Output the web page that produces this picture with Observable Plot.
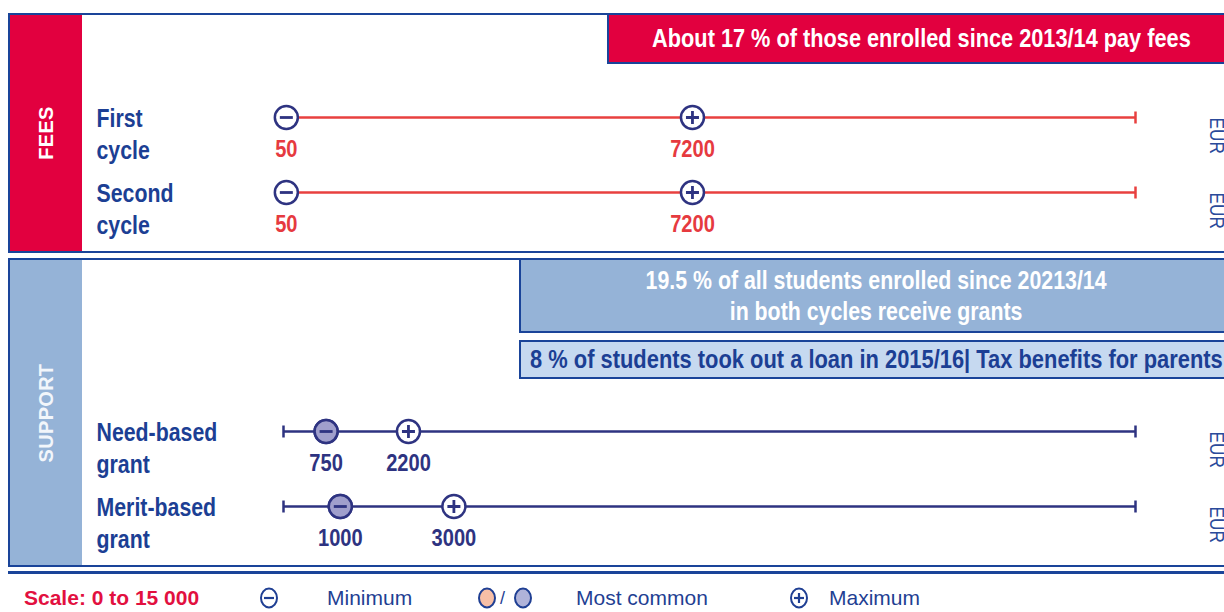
<!DOCTYPE html>
<html><head><meta charset="utf-8">
<script src="https://cdn.jsdelivr.net/npm/d3@7"></script>
<script src="https://cdn.jsdelivr.net/npm/@observablehq/plot@0.6"></script>
<style>
body{margin:0;background:#fff;}
#root{position:relative;width:1224px;height:612px;overflow:hidden;font-family:"Liberation Sans",Arial,sans-serif;}
.abs{position:absolute;box-sizing:border-box;}
.panel{left:8px;width:1240px;border:2px solid #1a4499;}
.side{left:10px;width:72px;}
.sidetxt{position:absolute;left:50%;top:50%;transform:translate(-50%,-50%) rotate(-90deg);font-weight:bold;font-size:20px;color:#fff;white-space:nowrap;letter-spacing:0.3px;}
.narrow{font-weight:bold;white-space:nowrap;}
.narrow span{display:inline-block;transform:scaleX(0.82);}
.leg{position:absolute;top:598px;transform:translateY(-50%);font-size:21px;color:#1f3f93;white-space:nowrap;}
svg.plot{position:absolute;left:0;}
</style></head>
<body><div id="root">
  <div class="abs panel" style="top:13px;height:240px;"></div>
  <div class="abs side" style="top:15px;height:236px;background:#e2003f;"><div class="sidetxt">FEES</div></div>
  <div class="abs" style="left:607px;top:15px;width:640px;height:49px;background:#e2003f;border-left:2px solid #1a4499;border-bottom:2px solid #1a4499;"></div>
  <div class="abs narrow" style="left:521px;top:15px;width:800px;height:47px;line-height:47px;text-align:center;color:#fff;font-size:26.5px;"><span id="b1" style="transform-origin:center"></span></div>

  <div class="abs panel" style="top:258px;height:309px;"></div>
  <div class="abs side" style="top:260px;height:305px;background:#95b3d7;"><div class="sidetxt" style="color:#f2f6fb;">SUPPORT</div></div>
  <div class="abs" style="left:519px;top:260px;width:720px;height:73px;background:#95b3d7;border-left:2px solid #1a4499;border-bottom:2px solid #1a4499;"></div>
  <div class="abs narrow" style="left:476px;top:262px;width:800px;height:69px;text-align:center;color:#fff;font-size:26px;line-height:31px;padding-top:3px;"><span id="b2" style="transform-origin:center"></span></div>
  <div class="abs" style="left:519px;top:340px;width:720px;height:39px;background:#c6d9f0;border:2px solid #1a4499;"></div>
  <div class="abs narrow" style="left:530px;top:340px;height:39px;line-height:39px;color:#1c3f94;font-size:26.7px;"><span id="b3" style="transform-origin:left center"></span></div>

  <div class="abs" style="left:8px;top:571px;width:1240px;height:3px;background:#1a4499;"></div>
  <div id="legend"></div>
</div>
<script>
// ---- data ----
const scaleDomain = [0, 15000];
const feeRows = ["First\ncycle", "Second\ncycle"];
const feeMin = [50, 50];
const feeMax = [7200, 7200];
const feeMostCommon = [null, null];
const supportRows = ["Need-based\ngrant", "Merit-based\ngrant"];
const supportMin = [750, 1000];
const supportMax = [2200, 3000];
const supportMostCommon = [750, 1000];
const unitLabel = "EUR";
const feesBanner = "About 17 % of those enrolled since 2013/14 pay fees";
const grantsBanner = ["19.5 % of all students enrolled since 20213/14", "in both cycles receive grants"];
const loanBanner = "8 % of students took out a loan in 2015/16| Tax benefits for parents";
const scaleNote = "Scale: 0 to 15 000";
const legendLabels = ["Minimum", "Most common", "Maximum"];

document.getElementById("b1").textContent = feesBanner;
document.getElementById("b2").innerHTML = grantsBanner.join("<br>");
document.getElementById("b3").textContent = loanBanner;

const NAVY = "#2e3381";
const LABEL = "#1c3f94";
const FONT = '"Liberation Sans",Arial,sans-serif';

const minusSym = {draw(ctx){ ctx.moveTo(-6.5,0); ctx.lineTo(6.5,0); }};
const plusSym = {draw(ctx){ ctx.moveTo(-6.5,0); ctx.lineTo(6.5,0); ctx.moveTo(0,-6.5); ctx.lineTo(0,6.5); }};
const tickSym = {draw(ctx){ ctx.moveTo(0,-6); ctx.lineTo(0,6); }};

function panel(rows, mins, maxs, commons, {top, height, yRange, lineColor, valueColor}) {
  const data = rows.map((row, i) => ({row, min: mins[i], max: maxs[i], common: commons[i]}));
  const common = data.filter(d => d.common != null);
  const svg = Plot.plot({
    width: 1224, height,
    marginLeft: 283, marginRight: 89, marginTop: 0, marginBottom: 0,
    x: {domain: scaleDomain, axis: null},
    y: {type: "point", domain: rows, range: yRange, padding: 0, axis: null},
    style: {background: "transparent", overflow: "visible"},
    marks: [
      Plot.ruleY(data, {y: "row", x1: () => scaleDomain[0], x2: () => scaleDomain[1], stroke: lineColor, strokeWidth: 2.5}),
      Plot.dot(data, {x: () => scaleDomain[0], y: "row", symbol: tickSym, stroke: lineColor, strokeWidth: 2.5, fill: "none"}),
      Plot.dot(data, {x: () => scaleDomain[1], y: "row", symbol: tickSym, stroke: lineColor, strokeWidth: 2.5, fill: "none"}),
      Plot.dot(data, {x: "max", y: "row", r: 11.5, fill: "white", stroke: NAVY, strokeWidth: 2.5}),
      Plot.dot(data, {x: "min", y: "row", r: 11.5, fill: "white", stroke: NAVY, strokeWidth: 2.5}),
      Plot.dot(common, {x: "common", y: "row", r: 11.5, fill: "#a09fcc", stroke: NAVY, strokeWidth: 2.5}),
      Plot.dot(data, {x: "min", y: "row", symbol: minusSym, stroke: NAVY, strokeWidth: 2.8, fill: "none"}),
      Plot.dot(data, {x: "max", y: "row", symbol: plusSym, stroke: NAVY, strokeWidth: 2.8, fill: "none"}),
      Plot.text(data, {x: "min", y: "row", text: d => String(d.min), dy: 32, fill: valueColor, fontSize: 24.5, fontWeight: "bold", fontFamily: FONT, className: "narrowtxt"}),
      Plot.text(data, {x: "max", y: "row", text: d => String(d.max), dy: 32, fill: valueColor, fontSize: 24.5, fontWeight: "bold", fontFamily: FONT, className: "narrowtxt"}),
      Plot.text(data, {y: "row", text: "row", frameAnchor: "left", dx: -187, dy: 15.5, textAnchor: "start", lineAnchor: "middle", lineHeight: 1.2, fill: LABEL, fontSize: 26, fontWeight: "bold", fontFamily: FONT, className: "narrowtxt"}),
      Plot.text(data, {y: "row", text: () => unitLabel, frameAnchor: "right", dx: 81, rotate: 90, textAnchor: "start", lineAnchor: "middle", fill: "#2a4a9a", fontSize: 21, fontFamily: FONT, className: "narrowtxt"})
    ]
  });
  // condense the text glyphs (narrow bold face of the original)
  svg.querySelectorAll(".narrowtxt text").forEach(t => {
    t.setAttribute("transform", (t.getAttribute("transform") || "") + " scale(0.82,1)");
  });
  svg.classList.add("plot");
  svg.style.top = top + "px";
  document.getElementById("root").appendChild(svg);
}

panel(feeRows, feeMin, feeMax, feeMostCommon, {top: 0, height: 255, yRange: [117, 192], lineColor: "#e8403f", valueColor: "#e63a3f"});
panel(supportRows, supportMin, supportMax, supportMostCommon, {top: 255, height: 315, yRange: [176, 251], lineColor: NAVY, valueColor: NAVY});

// ---- legend ----
const leg = document.getElementById("legend");
function addText(x, txt, style) {
  const d = document.createElement("div"); d.className = "leg"; d.style.left = x + "px"; d.textContent = txt;
  Object.assign(d.style, style || {}); leg.appendChild(d);
}
function addIcon(x, inner) {
  const d = document.createElement("div"); d.className = "leg"; d.style.left = x + "px";
  d.innerHTML = `<svg width="20" height="24" viewBox="0 0 20 24" style="display:block">${inner}</svg>`;
  leg.appendChild(d);
}
addText(24, scaleNote, {color: "#e2103f", fontWeight: "bold"});
addIcon(259, `<ellipse cx="10" cy="12" rx="8" ry="9.5" fill="white" stroke="#1f3f93" stroke-width="2"/><line x1="5" y1="12" x2="15" y2="12" stroke="#1f3f93" stroke-width="2.2"/>`);
addText(327, legendLabels[0]);
addIcon(477, `<ellipse cx="10" cy="12" rx="8" ry="9.5" fill="#f7bfa6" stroke="#1f3f93" stroke-width="2"/>`);
addText(500, "/", {fontSize: "18px"});
addIcon(513, `<ellipse cx="10" cy="12" rx="8" ry="9.5" fill="#b0b3d9" stroke="#1f3f93" stroke-width="2"/>`);
addText(576, legendLabels[1]);
addIcon(789, `<ellipse cx="10" cy="12" rx="8" ry="9.5" fill="white" stroke="#1f3f93" stroke-width="2"/><line x1="5" y1="12" x2="15" y2="12" stroke="#1f3f93" stroke-width="2.2"/><line x1="10" y1="7" x2="10" y2="17" stroke="#1f3f93" stroke-width="2.2"/>`);
addText(829, legendLabels[2]);
</script>
</body></html>
